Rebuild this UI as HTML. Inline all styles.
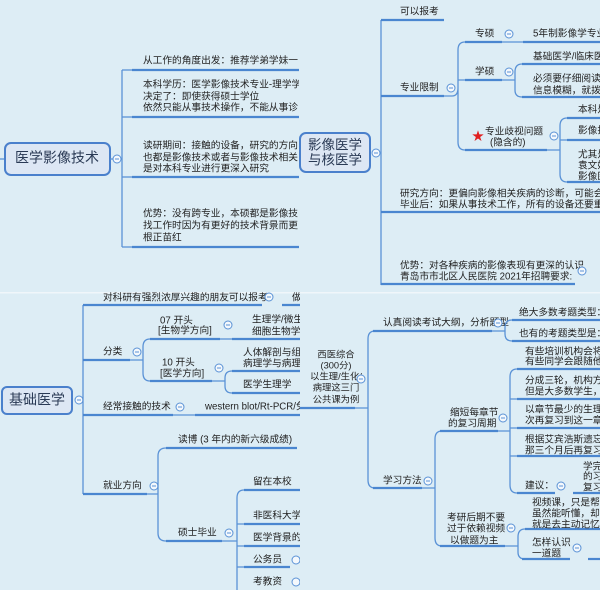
<!DOCTYPE html>
<html><head><meta charset="utf-8">
<style>
html,body{margin:0;padding:0;background:#ddedf5;}
svg{display:block;}
text{font-family:"Liberation Sans","Noto Sans CJK SC",sans-serif;font-size:9.7px;fill:#222;dominant-baseline:middle;}
.u{stroke:#4a86d0;stroke-width:2.2;fill:none;}
.t{stroke:#5a92d6;stroke-width:1.3;fill:none;}
.c{fill:#f4f8fc;stroke:#5a92d6;stroke-width:1;}
.m{stroke:#5a92d6;stroke-width:1;}
.box{fill:#dde7f4;stroke:#4a80cc;stroke-width:2;}
.big{font-size:14px;fill:#2a3a55;}
.s{font-size:9.3px;}
</style></head><body>
<svg width="600" height="590" viewBox="0 0 600 590" xmlns="http://www.w3.org/2000/svg">
<defs>
<clipPath id="q1"><rect x="0" y="0" width="299" height="292"/></clipPath>
<clipPath id="q2"><rect x="299" y="0" width="301" height="292"/></clipPath>
<clipPath id="q3"><rect x="0" y="292" width="300" height="298"/></clipPath>
<clipPath id="q4"><rect x="300" y="294" width="300" height="296"/></clipPath>
</defs>
<rect x="0" y="0" width="600" height="590" fill="#ddedf5"/>
<!-- TL -->
<g clip-path="url(#q1)">
<line class="t" x1="0" y1="159" x2="6" y2="159"/>
<rect class="box" x="5" y="143" width="105" height="32" rx="6"/>
<text class="big" x="57" y="159" text-anchor="middle">医学影像技术</text>
<line class="t" x1="110" y1="159" x2="122" y2="159"/>
<circle class="c" cx="117" cy="159" r="4"/><line class="m" x1="115" y1="159" x2="119" y2="159"/>
<line class="t" x1="122" y1="70" x2="122" y2="247"/>
<line class="t" x1="122" y1="70" x2="132" y2="70"/><line class="t" x1="122" y1="117" x2="132" y2="117"/>
<line class="t" x1="122" y1="177" x2="132" y2="177"/><line class="t" x1="122" y1="247" x2="132" y2="247"/>
<line class="u" x1="132" y1="70" x2="300" y2="70"/>
<line class="u" x1="132" y1="117" x2="300" y2="117"/>
<line class="u" x1="132" y1="177" x2="300" y2="177"/>
<line class="u" x1="132" y1="247" x2="300" y2="247"/>
<text x="143" y="61">从工作的角度出发：推荐学弟学妹一</text>
<text x="143" y="85">本科学历：医学影像技术专业-理学学</text>
<text x="143" y="97">决定了：即使获得硕士学位</text>
<text x="143" y="108">依然只能从事技术操作，不能从事诊</text>
<text x="143" y="146">读研期间：接触的设备，研究的方向</text>
<text x="143" y="158">也都是影像技术或者与影像技术相关</text>
<text x="143" y="169">是对本科专业进行更深入研究</text>
<text x="143" y="214">优势：没有跨专业，本硕都是影像技</text>
<text x="143" y="226">找工作时因为有更好的技术背景而更</text>
<text x="143" y="238">根正苗红</text>
</g>
<!-- TR -->
<g clip-path="url(#q2)">
<rect class="box" x="300" y="133" width="70" height="39" rx="6"/>
<text class="big" x="335" y="146" text-anchor="middle" style="font-size:13.5px">影像医学</text>
<text class="big" x="335" y="161" text-anchor="middle" style="font-size:13.5px">与核医学</text>
<circle class="c" cx="376" cy="153" r="4"/><line class="m" x1="374" y1="153" x2="378" y2="153"/>
<line class="t" x1="381" y1="20" x2="381" y2="285"/>
<line class="u" x1="381" y1="20" x2="444" y2="20"/><text x="400" y="12">可以报考</text>
<line class="u" x1="381" y1="96" x2="444" y2="96"/><text x="400" y="88">专业限制</text>
<circle class="c" cx="451" cy="88" r="4"/><line class="m" x1="449" y1="88" x2="453" y2="88"/>
<path class="t" d="M444,96 L452,96 Q458,96 458,88 L458,50 Q458,42 465,42 M458,88 L458,142 Q458,150 465,150 M458,80 L465,80"/>
<line class="u" x1="465" y1="42" x2="502" y2="42"/><text x="475" y="34">专硕</text>
<circle class="c" cx="509" cy="34" r="4"/><line class="m" x1="507" y1="34" x2="511" y2="34"/>
<line class="t" x1="502" y1="42" x2="523" y2="42"/>
<line class="u" x1="523" y1="42" x2="600" y2="42"/><text x="533" y="34">5年制影像学专业</text>
<line class="u" x1="465" y1="80" x2="502" y2="80"/><text x="475" y="72">学硕</text>
<circle class="c" cx="509" cy="72" r="4"/><line class="m" x1="507" y1="72" x2="511" y2="72"/>
<path class="t" d="M502,80 L515,80 M515,80 L515,72 Q515,64 522,64 M515,80 L515,90 Q515,97 522,97"/>
<line class="u" x1="522" y1="64" x2="600" y2="64"/><text x="533" y="57">基础医学/临床医</text>
<line class="u" x1="522" y1="97" x2="600" y2="97"/><text x="533" y="79">必须要仔细阅读报</text><text x="533" y="91">信息模糊，就拨打</text>
<text x="478" y="137" style="fill:#e02020;font-size:12px" text-anchor="middle">★</text>
<text x="485" y="132">专业歧视问题</text><text x="490" y="143">(隐含的)</text>
<line class="u" x1="465" y1="150" x2="547" y2="150"/>
<circle class="c" cx="554" cy="136" r="4"/><line class="m" x1="552" y1="136" x2="556" y2="136"/>
<path class="t" d="M547,150 L560,150 M560,150 L560,126 Q560,118 567,118 M560,140 L567,140 M560,150 L560,174 Q560,182 567,182"/>
<line class="u" x1="567" y1="118" x2="600" y2="118"/><text x="578" y="110">本科是</text>
<line class="u" x1="567" y1="140" x2="600" y2="140"/><text x="578" y="131">影像技</text>
<line class="u" x1="567" y1="182" x2="600" y2="182"/><text x="578" y="155">尤其是</text><text x="578" y="166">袁文娟</text><text x="578" y="177">影像医</text>
<line class="u" x1="381" y1="212" x2="600" y2="212"/>
<text x="400" y="194">研究方向：更偏向影像相关疾病的诊断，可能会脱离</text>
<text x="400" y="205">毕业后：如果从事技术工作，所有的设备还要重新跟</text>
<line class="u" x1="381" y1="284" x2="575" y2="284"/>
<text x="400" y="266">优势：对各种疾病的影像表现有更深的认识</text>
<text x="400" y="277">青岛市市北区人民医院 2021年招聘要求:</text>
<circle class="c" cx="582" cy="271" r="4"/><line class="m" x1="580" y1="271" x2="584" y2="271"/>
</g>
<rect x="0" y="292" width="600" height="1.5" fill="#f0f6fa"/>
<!-- BL -->
<g clip-path="url(#q3)">
<rect class="box" x="2" y="387" width="70" height="27" rx="5"/>
<text class="big" x="37" y="401" text-anchor="middle">基础医学</text>
<circle class="c" cx="79" cy="400" r="4"/><line class="m" x1="77" y1="400" x2="81" y2="400"/>
<line class="t" x1="83" y1="305" x2="83" y2="494"/>
<line class="u" x1="83" y1="305" x2="262" y2="305"/><text x="103" y="298">对科研有强烈浓厚兴趣的朋友可以报考</text>
<circle class="c" cx="269" cy="297" r="4"/><line class="m" x1="267" y1="297" x2="271" y2="297"/>
<line class="u" x1="282" y1="305" x2="300" y2="305"/><text x="292" y="298">做</text>
<line class="u" x1="83" y1="360" x2="130" y2="360"/><text x="103" y="352">分类</text>
<circle class="c" cx="137" cy="352" r="4"/><line class="m" x1="135" y1="352" x2="139" y2="352"/>
<path class="t" d="M130,360 L143,360 M143,360 L143,347 Q143,339 150,339 M143,360 L143,373 Q143,381 150,381"/>
<line class="u" x1="150" y1="339" x2="220" y2="339"/><text x="160" y="321">07 开头</text><text x="158" y="331">[生物学方向]</text>
<circle class="c" cx="228" cy="325" r="4"/><line class="m" x1="226" y1="325" x2="230" y2="325"/>
<line class="t" x1="220" y1="339" x2="232" y2="339"/>
<line class="u" x1="232" y1="339" x2="300" y2="339"/><text x="252" y="320">生理学/微生</text><text x="252" y="332">细胞生物学/</text>
<line class="u" x1="150" y1="381" x2="212" y2="381"/><text x="162" y="363">10 开头</text><text x="160" y="374">[医学方向]</text>
<circle class="c" cx="219" cy="368" r="4"/><line class="m" x1="217" y1="368" x2="221" y2="368"/>
<path class="t" d="M212,381 L225,381 M225,381 L225,378 Q225,371 232,371 M225,381 L225,386 Q225,393 232,393"/>
<line class="u" x1="232" y1="371" x2="300" y2="371"/><text x="243" y="353">人体解剖与组织</text><text x="243" y="364">病理学与病理生</text>
<line class="u" x1="232" y1="393" x2="300" y2="393"/><text x="243" y="385">医学生理学</text>
<line class="u" x1="83" y1="415" x2="173" y2="415"/><text x="103" y="407">经常接触的技术</text>
<circle class="c" cx="180" cy="407" r="4"/><line class="m" x1="178" y1="407" x2="182" y2="407"/>
<line class="t" x1="173" y1="415" x2="195" y2="415"/>
<line class="u" x1="195" y1="415" x2="300" y2="415"/><text x="205" y="407">western blot/Rt-PCR/免</text>
<line class="u" x1="83" y1="494" x2="147" y2="494"/><text x="103" y="486">就业方向</text>
<circle class="c" cx="154" cy="486" r="4"/><line class="m" x1="152" y1="486" x2="156" y2="486"/>
<path class="t" d="M147,494 L158,494 M158,494 L158,456 Q158,448 166,448 M158,494 L158,533 Q158,541 166,541"/>
<line class="u" x1="166" y1="448" x2="297" y2="448"/><text x="178" y="440">读博 (3 年内的新六级成绩)</text>
<line class="u" x1="166" y1="541" x2="222" y2="541"/><text x="178" y="533">硕士毕业</text>
<circle class="c" cx="229" cy="533" r="4"/><line class="m" x1="227" y1="533" x2="231" y2="533"/>
<path class="t" d="M222,541 L237,541 M237,541 L237,498 Q237,490 244,490 M237,524 L244,524 M237,541 L237,546 L244,546 M237,541 L237,590"/>
<line class="t" x1="237" y1="567" x2="244" y2="567"/>
<line class="u" x1="244" y1="490" x2="300" y2="490"/><text x="253" y="482">留在本校</text>
<line class="u" x1="244" y1="524" x2="300" y2="524"/><text x="253" y="516">非医科大学</text>
<line class="u" x1="244" y1="546" x2="300" y2="546"/><text x="253" y="538">医学背景的</text>
<line class="u" x1="244" y1="567" x2="290" y2="567"/><text x="253" y="560">公务员</text>
<circle class="c" cx="296" cy="560" r="4"/>
<text x="253" y="582">考教资</text>
<circle class="c" cx="296" cy="582" r="4"/>
</g>
<!-- BR -->
<g clip-path="url(#q4)">
<text class="s" x="336" y="355" text-anchor="middle">西医综合</text>
<text class="s" x="336" y="366" text-anchor="middle">(300分)</text>
<text class="s" x="336" y="377" text-anchor="middle">以生理/生化/</text>
<text class="s" x="336" y="388" text-anchor="middle">病理这三门</text>
<text class="s" x="336" y="400" text-anchor="middle">公共课为例</text>
<line class="u" x1="300" y1="408" x2="355" y2="408"/>
<circle class="c" cx="361" cy="379" r="4"/><line class="m" x1="359" y1="379" x2="363" y2="379"/>
<path class="t" d="M355,408 L368,408 M368,408 L368,339 Q368,331 375,331 M368,408 L368,480 Q368,488 375,488"/>
<line class="u" x1="373" y1="331" x2="492" y2="331"/><text x="383" y="323">认真阅读考试大纲，分析题型</text>
<circle class="c" cx="498" cy="323" r="4"/><line class="m" x1="496" y1="323" x2="500" y2="323"/>
<path class="t" d="M492,331 L505,331 M505,331 L505,327 Q505,320 512,320 M505,331 L505,334 Q505,341 512,341"/>
<line class="u" x1="512" y1="320" x2="600" y2="320"/><text x="519" y="313">绝大多数考题类型：15</text>
<line class="u" x1="512" y1="341" x2="600" y2="341"/><text x="519" y="334">也有的考题类型是：名</text>
<line class="u" x1="373" y1="488" x2="422" y2="488"/><text x="383" y="481">学习方法</text>
<circle class="c" cx="428" cy="481" r="4"/><line class="m" x1="426" y1="481" x2="430" y2="481"/>
<path class="t" d="M422,488 L435,488 M435,488 L435,439 Q435,431 442,431 M435,488 L435,538 Q435,546 442,546"/>
<line class="u" x1="440" y1="431" x2="498" y2="431"/><text x="450" y="413">缩短每章节</text><text x="448" y="424">的复习周期</text>
<circle class="c" cx="503" cy="418" r="4"/><line class="m" x1="501" y1="418" x2="505" y2="418"/>
<path class="t" d="M498,431 L510,431 M510,431 L510,377 Q510,369 517,369 M510,399 L517,399 M510,428 L517,428 M510,456 L517,456 M510,431 L510,485 Q510,493 517,493"/>
<line class="u" x1="517" y1="369" x2="600" y2="369"/><text x="525" y="352">有些培训机构会将培训</text><text x="525" y="362">有些同学会跟随他们把</text>
<line class="u" x1="517" y1="399" x2="600" y2="399"/><text x="525" y="381">分成三轮，机构方只需</text><text x="525" y="392">但是大多数学生，却把</text>
<line class="u" x1="517" y1="428" x2="600" y2="428"/><text x="525" y="410">以章节最少的生理学为</text><text x="525" y="421">次再复习到这一章的时</text>
<line class="u" x1="517" y1="456" x2="600" y2="456"/><text x="525" y="440">根据艾宾浩斯遗忘曲线</text><text x="525" y="451">那三个月后再复习这一</text>
<line class="u" x1="517" y1="493" x2="555" y2="493"/><text x="525" y="486">建议：</text>
<circle class="c" cx="561" cy="486" r="4"/><line class="m" x1="559" y1="486" x2="563" y2="486"/>
<line class="u" x1="573" y1="493" x2="600" y2="493"/><text x="583" y="467">学完</text><text x="583" y="477">的习</text><text x="583" y="488">复习</text>
<line class="u" x1="440" y1="546" x2="505" y2="546"/><text x="447" y="518">考研后期不要</text><text x="447" y="529">过于依赖视频</text><text x="450" y="541">以做题为主</text>
<circle class="c" cx="511" cy="528" r="4"/><line class="m" x1="509" y1="528" x2="513" y2="528"/>
<path class="t" d="M505,546 L518,546 M518,546 L518,537 Q518,529 525,529 M518,546 L518,552 Q518,559 525,559"/>
<line class="u" x1="525" y1="529" x2="600" y2="529"/><text x="532" y="503">视频课，只是帮大家</text><text x="532" y="514">虽然能听懂，却没有</text><text x="532" y="525">就是去主动记忆，而</text>
<line class="u" x1="522" y1="559" x2="570" y2="559"/><text x="532" y="543">怎样认识</text><text x="532" y="554">一道题</text>
<circle class="c" cx="577" cy="548" r="4"/><line class="m" x1="575" y1="548" x2="579" y2="548"/>
<line class="u" x1="588" y1="559" x2="600" y2="559"/>
</g>
</svg>
</body></html>
